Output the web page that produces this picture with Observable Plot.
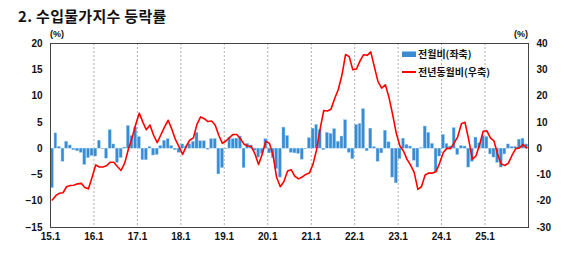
<!DOCTYPE html>
<html>
<head>
<meta charset="utf-8">
<script src="https://cdn.jsdelivr.net/npm/d3@7"></script>
<script src="https://cdn.jsdelivr.net/npm/@observablehq/plot@0.6"></script>
<style>
  body { margin: 0; background: #fff; }
  #wrap { position: relative; width: 580px; height: 260px; overflow: hidden; }
  #title { position: absolute; left: 18px; top: 5px; font: 600 15px "Noto Sans CJK KR", sans-serif; color: #111; letter-spacing: 0.3px; }
  .unit { position: absolute; top: 29px; font: bold 9px "Liberation Sans", Arial, sans-serif; color: #111; }
  .leg { position: absolute; left: 402px; font: bold 10px "Noto Sans CJK KR", sans-serif; color: #111; display: flex; align-items: center; }
  .sw-bar { width: 14px; height: 5px; background: #3a8bd1; border-top: 1px solid #8cc8f0; margin-right: 2px; }
  .sw-line { width: 14px; height: 2px; background: #ff0000; margin-right: 2px; }
  #chart { position: absolute; left: 0; top: 0; }
</style>
</head>
<body>
<div id="wrap">
  <div id="chart"></div>
  <div id="title">2. 수입물가지수 등락률</div>
  <div class="unit" style="left:50px">(%)</div>
  <div class="unit" style="left:514px">(%)</div>
  <div class="leg" style="top:46px"><div class="sw-bar"></div>전월비(좌축)</div>
  <div class="leg" style="top:64px"><div class="sw-line"></div>전년동월비(우축)</div>
</div>
<script>
// Monthly series, Jan 2015 – Dec 2025
const startYear = 2015;
const momValues = [
  -7.5, 2.9, 0.3, -2.5, 1.3, 0.6, -0.3, -0.5, -0.8, -3.1, -1.8, -1.4,
  -1.5, 1.5, -0.1, -1.9, 3.5, 0.8, -2.7, -1.8, 0.2, 4.3, 2.4, 4.0,
  2.2, -2.2, -2.2, 0.3, -1.3, -1.2, 0.5, 1.5, 1.8, 0.5, -0.3, -0.8,
  0.8, 0.4, 0.8, 1.3, 3.0, 1.4, 1.4, -0.2, 1.8, 1.8, -4.9, -3.7,
  -0.1, 2.1, 1.8, 1.9, 2.3, -3.7, 0.9, 0.6, -0.4, -1.7, -1.0, 1.8,
  -0.9, -1.8, -3.9, -5.5, 4.0, 2.4, -0.8, -0.9, -1.0, -2.1, -0.1, 2.0,
  3.8, 4.5, 3.5, -0.3, 3.0, 2.8, 3.7, 1.3, 2.3, 5.4, -0.8, -2.0,
  4.5, 4.7, 7.5, -0.5, 3.8, 0.3, -2.5, -0.9, 3.4, 1.2, -5.5, -6.6,
  -2.0, 1.9, 0.7, 0.4, -2.3, -3.6, 0.1, 4.2, 3.0, 0.9, -4.5, -1.5,
  2.6, 0.9, 0.4, 3.9, -1.2, 0.5, 0.4, -3.6, -2.5, 2.1, 1.0, 2.4,
  2.2, -1.1, -1.7, -2.7, -3.6, -1.1, 0.8, 0.3, 0.3, 1.7, 1.9, 0.8
];
const yoyValues = [
  -19.5, -17.8, -17.0, -16.8, -14.5, -14.0, -13.9, -13.4, -13.2, -14.8, -15.3, -11.0,
  -6.2, -7.0, -7.0, -6.5, -5.2, -5.2, -6.8, -8.3, -5.5, -0.3, 4.0, 9.0,
  13.5, 10.0, 7.2, 9.0, 5.2, 2.3, 5.2, 8.2, 10.8, 7.5, 3.5, 0.8,
  -2.2, 1.0, 3.2, 4.1, 9.2, 12.1, 11.4, 10.3, 10.5, 9.0, 5.0, 2.0,
  3.0, 4.3, 5.4, 5.4, 3.8, 1.7, 1.0, 0.8, -2.0, -6.0, -2.0, 2.8,
  2.0, -2.8, -11.0, -14.5, -12.5, -8.5, -8.0, -10.5, -11.5, -10.8, -9.8, -9.3,
  -5.9, -0.2, 7.4, 14.5, 14.3, 15.0, 19.0, 22.5, 28.0, 35.8, 35.0, 30.0,
  30.3, 33.5, 35.7, 35.5, 36.8, 31.0, 25.5, 23.0, 24.3, 19.5, 13.0, 6.0,
  1.0, -1.0, -4.0, -6.3, -9.0, -15.5, -14.5, -10.0, -9.3, -9.3, -8.8, -5.5,
  -1.5, 0.2, 0.0, 2.2, 4.5, 9.5, 10.0, 3.5, -4.0, -2.8, 1.5, 6.6,
  6.8, 4.0, 3.0, -2.0, -5.8, -6.4, -5.5, -2.5, 0.0, 0.3, 1.5, 0.3
];
const yearLabels = ["15.1","16.1","17.1","18.1","19.1","20.1","21.1","22.1","23.1","24.1","25.1"];
const leftTicks = [-15, -10, -5, 0, 5, 10, 15, 20];
const rightTicks = [-30, -20, -10, 0, 10, 20, 30, 40];

const months = momValues.map((v, i) => ({
  start: new Date(startYear, i, 1),
  end: new Date(startYear, i + 1, 1),
  mid: new Date(startYear, i, 16),
  mom: v,
  yoy: yoyValues[i]
}));
const yearDates = yearLabels.map((_, i) => new Date(startYear + i, 0, 1));

const chart = Plot.plot({
  width: 580,
  height: 260,
  marginTop: 43,
  marginBottom: 33,
  marginLeft: 50,
  marginRight: 52,
  style: { fontFamily: "'Liberation Sans', Arial, sans-serif", fontSize: "10px", fontWeight: "bold", color: "#111", background: "transparent" },
  x: { type: "time", domain: [new Date(startYear, 0, 1), new Date(startYear + 11, 0, 1)] },
  y: { domain: [-15, 20] },
  marks: [
    Plot.ruleX(yearDates.slice(1), { stroke: "#9a9a9a", strokeWidth: 0.8, strokeDasharray: "2,2" }),
    Plot.rectY(months, { x1: "start", x2: "end", y: "mom", fill: "#3a8bd1", stroke: "#8cc8f0", strokeWidth: 0.4, insetLeft: 0.35, insetRight: 0.35 }),
    Plot.line(months, { x: "mid", y: d => d.yoy / 2, stroke: "#ff0000", strokeWidth: 1.6, curve: "linear" }),
    Plot.frame({ stroke: "#444", strokeWidth: 1 }),
    Plot.axisY({ anchor: "left", ticks: leftTicks, tickSize: 0, tickPadding: 8, label: null }),
    Plot.axisY({ anchor: "right", ticks: rightTicks.map(t => t / 2), tickFormat: d => String(d * 2), tickSize: 0, tickPadding: 8, label: null }),
    Plot.axisX({ ticks: yearDates, tickFormat: d => yearLabels[d.getFullYear() - startYear], tickSize: 0, tickPadding: 5, label: null })
  ]
});
document.getElementById("chart").appendChild(chart);
</script>
</body>
</html>
